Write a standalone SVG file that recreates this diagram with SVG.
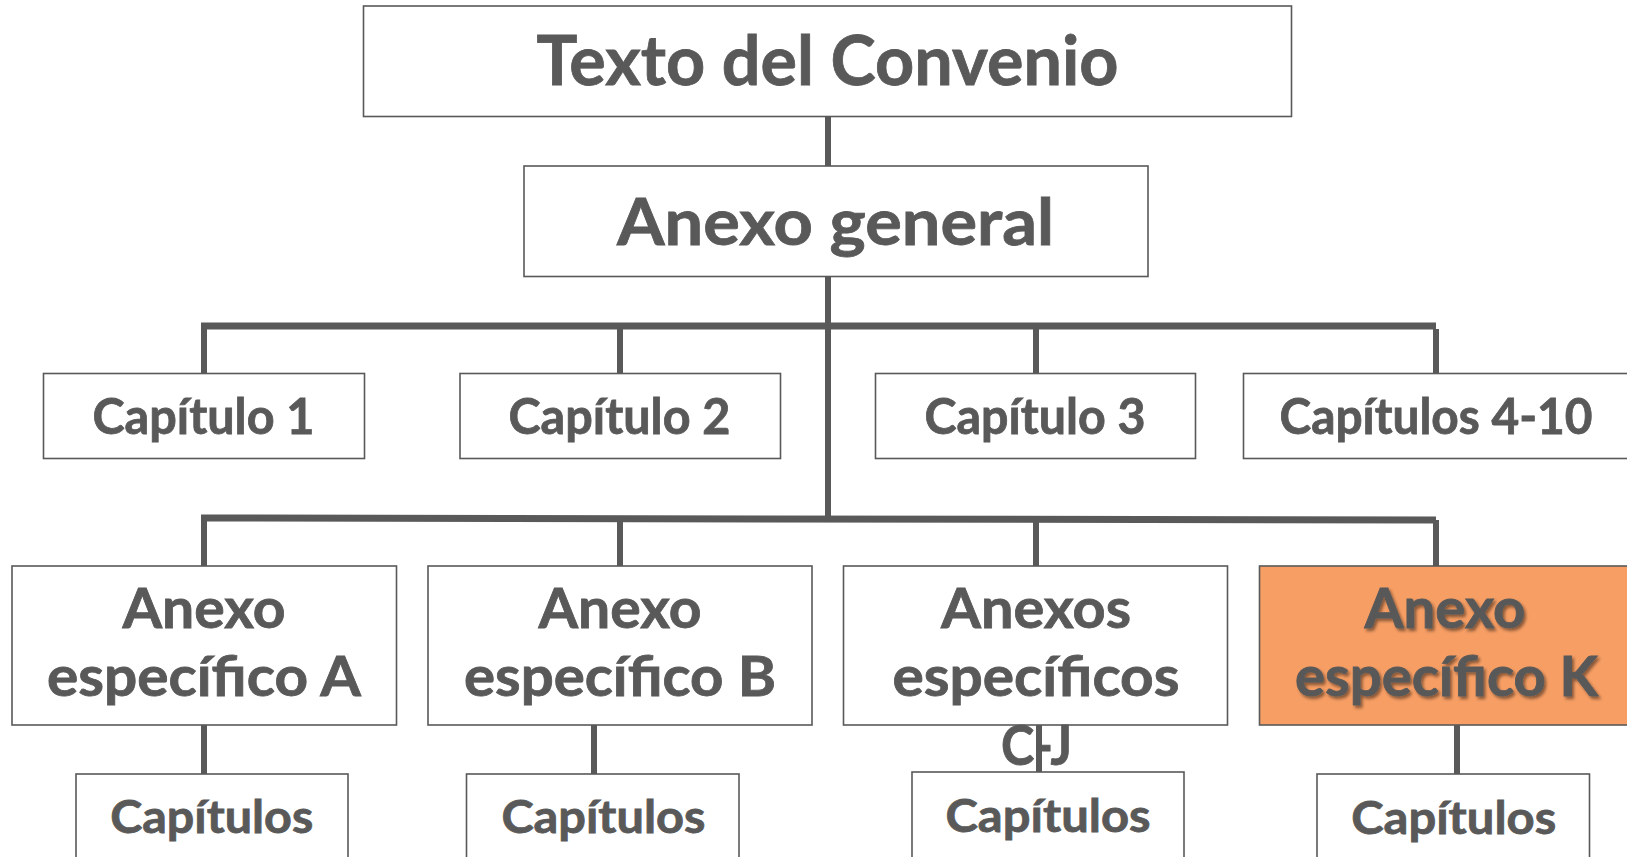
<svg xmlns="http://www.w3.org/2000/svg" width="1627" height="857" viewBox="0 0 1627 857">
<defs>
<style>
.box{fill:#ffffff;stroke:#595959;stroke-width:1.6}
.hl{fill:#F79E64;stroke:#595959;stroke-width:1.6}
.t{font-family:Lato,"Open Sans","Liberation Sans",sans-serif;font-weight:700;fill:#595959;stroke:#595959;stroke-width:0.8;text-anchor:middle}
.bar{stroke:#595959;stroke-width:7;fill:none}
.v{stroke:#595959;stroke-width:6;fill:none}
</style>
<filter id="sh" x="-10%" y="-20%" width="120%" height="150%">
<feDropShadow dx="2" dy="2.5" stdDeviation="1.6" flood-color="#000000" flood-opacity="0.45"/>
</filter>
</defs>
<rect width="1627" height="857" fill="#ffffff"/>
<g id="connectors">
<path class="v" d="M828 116V166"/>
<path class="v" d="M828 276V520"/>
<path class="bar" d="M201 326H1436"/>
<path class="v" d="M204 323V374M620 326V374M1036 326V374M1436 329V378"/>
<path class="bar" d="M201 518L1436 520"/>
<path class="v" d="M204 515V566M620 519V566M1036 519V566M1436 520V568"/>
<path class="v" d="M204 725V774M594 725V774M1039 725V772M1457 725V774"/>
</g>
<g id="n-texto"><rect class="box" x="363.5" y="6" width="928" height="110.5"/><text class="t" x="827.5" y="85" font-size="68" textLength="582" lengthAdjust="spacingAndGlyphs">Texto del Convenio</text></g>
<g id="n-anexo-general"><rect class="box" x="524" y="166" width="624" height="110.5"/><text class="t" x="835.5" y="245" font-size="65" textLength="437" lengthAdjust="spacingAndGlyphs">Anexo general</text></g>
<g id="n-cap1"><rect class="box" x="43.5" y="373.5" width="321" height="85"/><text class="t" x="203.5" y="434" font-size="49" textLength="222" lengthAdjust="spacingAndGlyphs">Capítulo 1</text></g>
<g id="n-cap2"><rect class="box" x="460" y="373.5" width="320.5" height="85"/><text class="t" x="619.5" y="434" font-size="49" textLength="222" lengthAdjust="spacingAndGlyphs">Capítulo 2</text></g>
<g id="n-cap3"><rect class="box" x="875.5" y="373.5" width="320" height="85"/><text class="t" x="1035" y="434" font-size="49" textLength="221" lengthAdjust="spacingAndGlyphs">Capítulo 3</text></g>
<g id="n-cap4-10"><rect class="box" x="1243.5" y="373.5" width="400" height="85"/><text class="t" x="1436" y="434" font-size="49" textLength="313" lengthAdjust="spacingAndGlyphs">Capítulos 4-10</text></g>
<g id="n-anexo-a"><rect class="box" x="12" y="566" width="384.5" height="159"/><text class="t" x="204" y="628" font-size="55" textLength="163" lengthAdjust="spacingAndGlyphs">Anexo</text><text class="t" x="204" y="696" font-size="55" textLength="314" lengthAdjust="spacingAndGlyphs">específico A</text></g>
<g id="n-anexo-b"><rect class="box" x="428" y="566" width="384" height="159"/><text class="t" x="620" y="628" font-size="55" textLength="163" lengthAdjust="spacingAndGlyphs">Anexo</text><text class="t" x="620" y="696" font-size="55" textLength="312" lengthAdjust="spacingAndGlyphs">específico B</text></g>
<g id="n-anexo-cj"><rect class="box" x="843.5" y="566" width="384" height="159"/><text class="t" x="1036" y="628" font-size="55" textLength="190" lengthAdjust="spacingAndGlyphs">Anexos</text><text class="t" x="1036" y="696" font-size="55" textLength="287" lengthAdjust="spacingAndGlyphs">específicos</text><text class="t" x="1036.5" y="765" font-size="55" textLength="71" lengthAdjust="spacingAndGlyphs">C-J</text></g>
<g id="n-anexo-k"><rect class="hl" x="1259.5" y="566" width="384" height="159"/><g filter="url(#sh)"><text class="t" x="1445" y="628" font-size="55" textLength="161" lengthAdjust="spacingAndGlyphs">Anexo</text><text class="t" x="1446.5" y="696" font-size="55" textLength="303" lengthAdjust="spacingAndGlyphs">específico K</text></g></g>
<g id="n-capitulos-a"><rect class="box" x="76" y="774" width="272" height="100"/><text class="t" x="211.7" y="833" font-size="46" textLength="203" lengthAdjust="spacingAndGlyphs">Capítulos</text></g>
<g id="n-capitulos-b"><rect class="box" x="466.5" y="774" width="272.5" height="100"/><text class="t" x="603.4" y="833" font-size="46" textLength="204" lengthAdjust="spacingAndGlyphs">Capítulos</text></g>
<g id="n-capitulos-cj"><rect class="box" x="912" y="772" width="272" height="100"/><text class="t" x="1048" y="832" font-size="46" textLength="205" lengthAdjust="spacingAndGlyphs">Capítulos</text></g>
<g id="n-capitulos-k"><rect class="box" x="1317" y="774" width="272.5" height="100"/><text class="t" x="1453.7" y="834" font-size="46" textLength="205" lengthAdjust="spacingAndGlyphs">Capítulos</text></g>
</svg>
